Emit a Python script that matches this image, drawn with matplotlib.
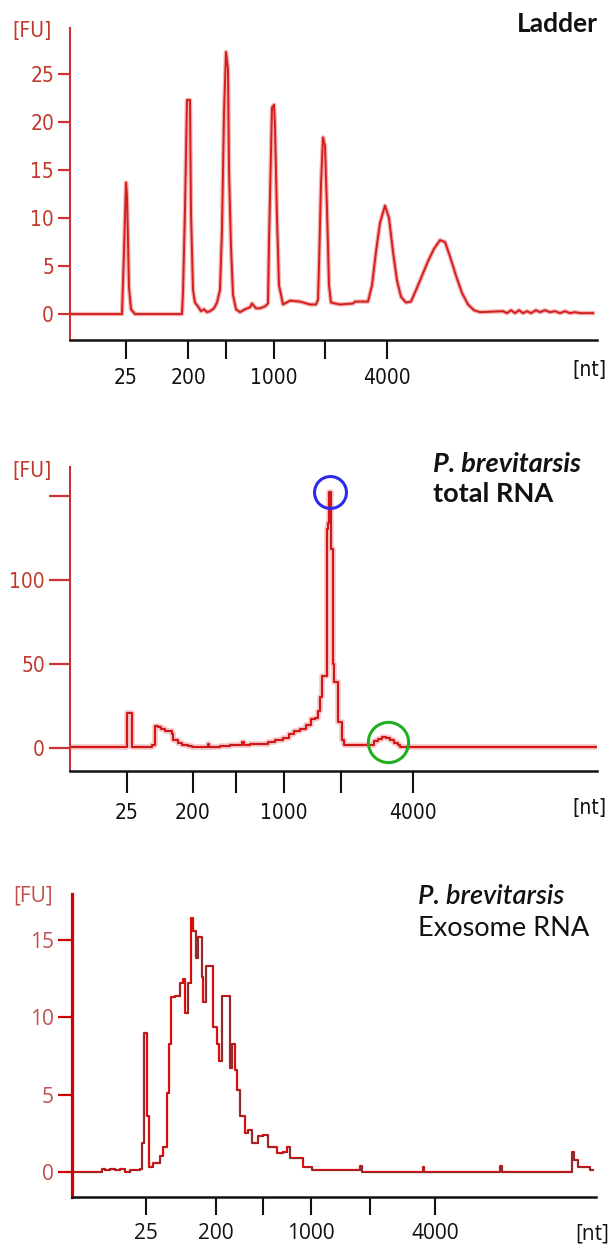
import matplotlib.pyplot as plt

W, H = 613, 1248

# --- Ladder (x = migration position, arbitrary units along the axis) ---
ladder_x = [0, 52, 54, 56, 57, 59, 61, 65, 112, 113, 115, 117, 120, 121, 123, 125, 128, 131, 134, 137,
            140, 144, 147, 150, 152, 154, 156, 158, 159, 161, 163, 166, 170, 175, 180, 182, 186, 190, 195,
            198, 199, 202, 204, 205, 207, 209, 213, 220, 230, 240, 246, 248, 249, 251, 253, 255, 257, 259,
            261, 270, 283, 285, 298, 302, 306, 310, 315, 319, 323, 327, 331, 336, 341, 346, 352, 358, 364,
            370, 375, 380, 386, 392, 398, 404, 410, 433, 437, 441, 445, 449, 453, 457, 461, 466, 470, 475,
            480, 485, 490, 495, 500, 505, 510, 523]
ladder_fu = [0.0, 0.0, 6.5, 13.7, 12.3, 2.8, 0.5, 0.0, 0.0, 2.2, 11.0, 22.3, 22.3, 10.5, 2.5, 1.2, 0.8,
             0.3, 0.5, 0.2, 0.3, 0.6, 1.2, 2.5, 8.8, 21.0, 27.3, 25.5, 15.0, 7.0, 2.0, 0.5, 0.2, 0.5, 0.7,
             1.1, 0.6, 0.6, 0.8, 1.1, 7.5, 21.5, 21.8, 19.5, 10.0, 3.0, 1.0, 1.4, 1.3, 1.0, 1.0, 1.5, 5.0,
             13.5, 18.4, 17.5, 11.0, 3.0, 1.2, 1.0, 1.1, 1.3, 1.3, 3.0, 6.5, 9.5, 11.3, 10.0, 6.5, 3.5,
             1.8, 1.2, 1.3, 2.5, 4.0, 5.5, 6.8, 7.7, 7.5, 6.0, 4.0, 2.2, 1.0, 0.4, 0.2, 0.3, 0.1, 0.4, 0.1,
             0.4, 0.1, 0.3, 0.1, 0.4, 0.2, 0.4, 0.2, 0.3, 0.1, 0.3, 0.1, 0.2, 0.1, 0.1]
ladder_ticks = [56, 118, 156, 204, 255, 317]

# --- P. brevitarsis total RNA ---
total_x = [0, 57, 61, 62, 65, 80, 82, 85, 88, 91, 95, 102, 103, 108, 112, 118, 122, 135, 138, 139, 150,
           160, 170, 172, 174, 180, 198, 205, 213, 219, 224, 230, 236, 241, 245, 248, 250, 252, 255, 257,
           258, 259, 260, 261, 262, 263, 264, 267, 268, 271, 272, 274, 300, 304, 308, 312, 316, 320, 324,
           328, 330, 527]
total_fu = [0.5, 20.5, 20.5, 0.5, 0.5, 0.5, 1.5, 13.0, 12.5, 11.0, 10.0, 8.5, 4.8, 3.0, 2.0, 1.0, 0.6, 0.6,
            2.5, 0.6, 1.0, 1.5, 1.5, 3.6, 1.5, 2.5, 3.6, 5.0, 6.0, 8.0, 10.0, 11.5, 13.7, 17.0, 17.8, 22.0,
            30.0, 43.0, 43.0, 130.0, 134.0, 152.0, 152.0, 118.0, 118.0, 50.0, 39.0, 39.0, 15.5, 15.5, 4.8,
            2.0, 2.0, 4.0, 5.5, 6.5, 6.0, 4.5, 3.0, 1.5, 0.5, 0.5]
total_ticks = [57, 123, 166, 214, 271, 343]
major_peak = (260, 152)
minor_peak = (318, 3.6)

# --- P. brevitarsis exosome RNA ---
exo_x = [0, 28, 30, 33, 38, 43, 48, 53, 58, 68, 70, 72, 75, 77, 81, 88, 91, 95, 97, 99, 103, 108, 111,
         113, 116, 119, 121, 124, 126, 130, 131, 134, 138, 141, 145, 147, 150, 155, 158, 160, 163, 165,
         168, 173, 176, 180, 186, 191, 196, 205, 211, 215, 218, 231, 240, 288, 290, 351, 352, 428, 430,
         500, 502, 506, 507, 518, 521]
exo_fu = [0.0, 0.0, 0.2, 0.1, 0.2, 0.1, 0.2, 0.0, 0.1, 0.2, 1.9, 9.0, 3.6, 0.3, 0.6, 1.0, 1.6, 5.1, 8.3,
          11.3, 11.4, 12.2, 12.5, 10.3, 12.2, 16.4, 15.6, 13.8, 15.2, 12.6, 11.0, 13.3, 13.3, 9.4, 8.3,
          7.2, 11.4, 11.4, 6.7, 8.3, 6.6, 5.3, 3.6, 2.5, 2.7, 1.9, 2.3, 2.4, 1.6, 1.2, 1.3, 1.6, 0.9, 0.3,
          0.1, 0.4, 0.0, 0.3, 0.0, 0.4, 0.0, 1.3, 0.8, 0.3, 0.3, 0.1, 0.1]
exo_ticks = [74, 144, 191, 239, 298, 363]

x_labels = ['25', '200', '', '1000', '', '4000']

narrow = ['DejaVu Sans']
calibri = ['Open Sans', 'DejaVu Sans']
title_font = ['Lato', 'DejaVu Sans']
tick_red = '#c0392b'


def fx(px):
    return px / W


def fy(py):
    return 1 - py / H


def make_axes(fig, l, t, r, b):
    return fig.add_axes([fx(l), fy(b), (r - l) / W, (b - t) / H])


def style_axes(ax, spine_red, lw_left, xticks, ylen, xlen, font, stretch, size, ylabcol, xpad):
    for s in ['top', 'right']:
        ax.spines[s].set_visible(False)
    ax.spines['left'].set_color(spine_red)
    ax.spines['left'].set_linewidth(lw_left)
    ax.spines['bottom'].set_color('#111111')
    ax.spines['bottom'].set_linewidth(1.8)
    ax.set_xticks(xticks)
    ax.set_xticklabels(x_labels, family=font, fontstretch=stretch, fontsize=size, color='#111111')
    ax.tick_params(axis='x', direction='out', length=xlen, width=1.5, color='#111111', pad=xpad)
    ax.tick_params(axis='y', direction='out', length=ylen, width=1.6, color=spine_red, pad=3)
    for lab in ax.get_yticklabels():
        lab.set_family(font)
        lab.set_fontstretch(stretch)
        lab.set_fontsize(size)
        lab.set_color(ylabcol)


fig = plt.figure(figsize=(W / 100, H / 100), dpi=100)

# Panel 1: ladder
ax1 = make_axes(fig, 70, 28, 597, 340)
ax1.plot(ladder_x, ladder_fu, color='#f3b3b3', lw=3.2, solid_joinstyle='round')
ax1.plot(ladder_x, ladder_fu, color='#d41f1f', lw=1.4)
ax1.set_xlim(0, 527)
ax1.set_ylim(-2.7, 29.8)
ax1.set_yticks([0, 5, 10, 15, 20, 25])
style_axes(ax1, '#c83232', 1.5, ladder_ticks, 8.5, 13.5, narrow, 'condensed', 15, tick_red, 7)

# Panel 2: total RNA
ax2 = make_axes(fig, 70, 467, 597, 771)
ax2.plot(total_x, total_fu, color='#f6c4c4', lw=4, drawstyle='steps-post')
ax2.plot(total_x, total_fu, color='#d01818', lw=1.5, drawstyle='steps-post')
ax2.plot(*major_peak, marker='o', ms=23, mfc='none', mec='#2b2bf0', mew=2.2)
ax2.plot(*minor_peak, marker='o', ms=29, mfc='none', mec='#1fb01f', mew=2.2)
ax2.set_xlim(0, 527)
ax2.set_ylim(-13.7, 167)
ax2.set_yticks([0, 50, 100, 150])
ax2.set_yticklabels(['0', '50', '100', ''])
style_axes(ax2, '#c83232', 1.5, total_ticks, 15, 16, narrow, 'condensed', 15, tick_red, 7)

# Panel 3: exosome RNA
ax3 = make_axes(fig, 72, 894, 596, 1197)
ax3.plot(exo_x, exo_fu, color='#e01010', lw=1.6, drawstyle='steps-post')
ax3.plot(exo_x, exo_fu, color='#8b2a2a', lw=0.7, drawstyle='steps-post')
ax3.set_xlim(0, 524)
ax3.set_ylim(-1.62, 17.97)
ax3.set_yticks([0, 5, 10, 15])
style_axes(ax3, '#d00000', 2.3, exo_ticks, 10, 13, calibri, 'normal', 15, '#c0504d', 6)

# axis unit labels
for y in [31, 471]:
    fig.text(fx(52), fy(y), '[FU]', ha='right', va='center', family=narrow, fontstretch='condensed',
             fontsize=15, color=tick_red)
fig.text(fx(53), fy(896), '[FU]', ha='right', va='center', family=calibri, fontsize=15, color='#c0504d')
for y in [370, 808]:
    fig.text(fx(607), fy(y), '[nt]', ha='right', va='center', family=narrow, fontstretch='condensed',
             fontsize=15, color='#111111')
fig.text(fx(609), fy(1234), '[nt]', ha='right', va='center', family=calibri, fontsize=15, color='#111111')

# sample titles
fig.text(fx(598), fy(24), 'Ladder', ha='right', va='center', family=title_font, fontsize=19,
         fontweight='bold', color='#111111')
fig.text(fx(433), fy(464), 'P. brevitarsis', ha='left', va='center', family=title_font, fontsize=19.5,
         fontweight='bold', style='italic', color='#111111')
fig.text(fx(433), fy(494), 'total RNA', ha='left', va='center', family=title_font, fontsize=19.5,
         fontweight='bold', color='#111111')
fig.text(fx(418), fy(897), 'P. brevitarsis', ha='left', va='center', family=title_font, fontsize=19.5,
         fontweight='semibold', style='italic', color='#111111')
fig.text(fx(418), fy(928), 'Exosome RNA', ha='left', va='center', family=title_font, fontsize=19.5,
         color='#111111')

fig.savefig('out.png', dpi=100)
